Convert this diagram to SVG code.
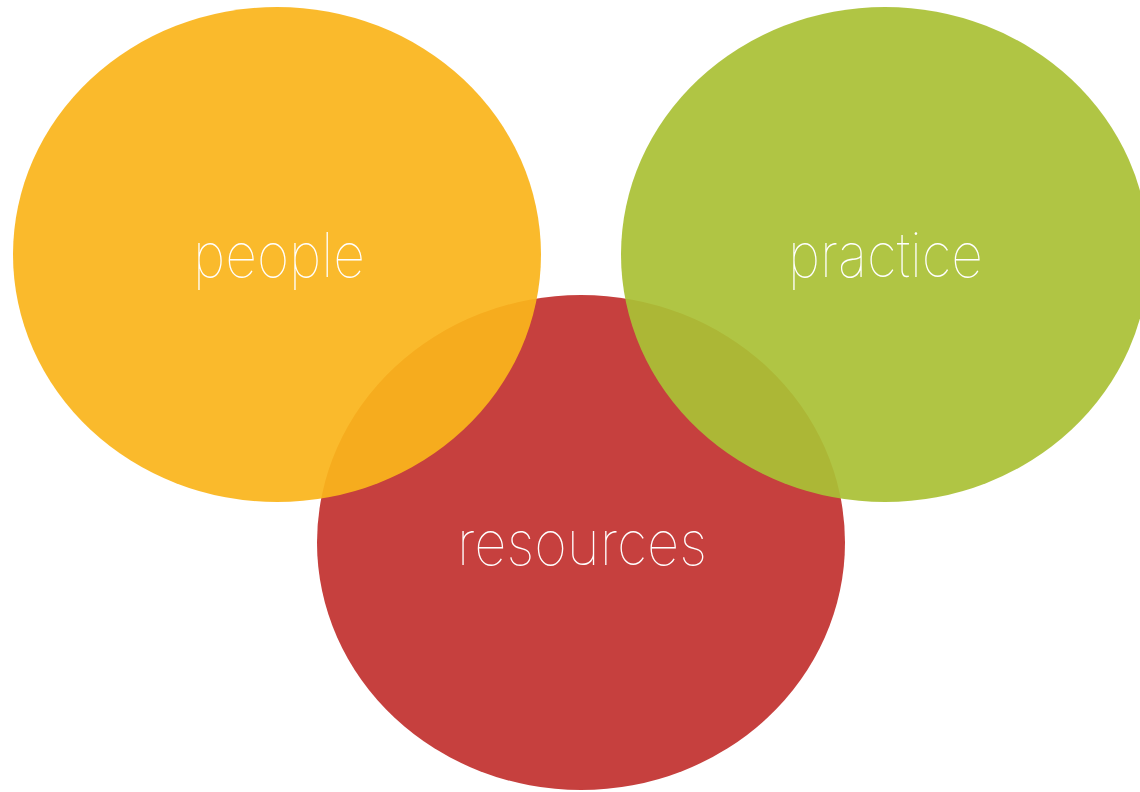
<svg xmlns="http://www.w3.org/2000/svg" width="1140" height="792" viewBox="0 0 1140 792">
<style>
.lbl{font-family:"Inter","Lato","Liberation Sans",sans-serif;font-weight:100;font-size:62px;fill:#ffffff;text-anchor:middle;font-variant-ligatures:none}
.c{opacity:0.93}
</style>
<rect width="1140" height="792" fill="#ffffff"/>
<g id="resources">
<ellipse cx="581" cy="542.5" rx="264" ry="247.5" fill="#C6403E"/>
<text class="lbl" x="582" y="565" textLength="250" lengthAdjust="spacingAndGlyphs">resources</text>
</g>
<g id="people">
<ellipse class="c" cx="277" cy="254.5" rx="264" ry="247.5" fill="#FAB51C"/>
<text class="lbl" x="279" y="277" textLength="172" lengthAdjust="spacingAndGlyphs">people</text>
</g>
<g id="practice">
<ellipse class="c" cx="885" cy="254.5" rx="264" ry="247.5" fill="#AAC136"/>
<text class="lbl" x="885.5" y="277" textLength="195" lengthAdjust="spacingAndGlyphs">practice</text>
</g>
<g id="connectors"/>
</svg>
